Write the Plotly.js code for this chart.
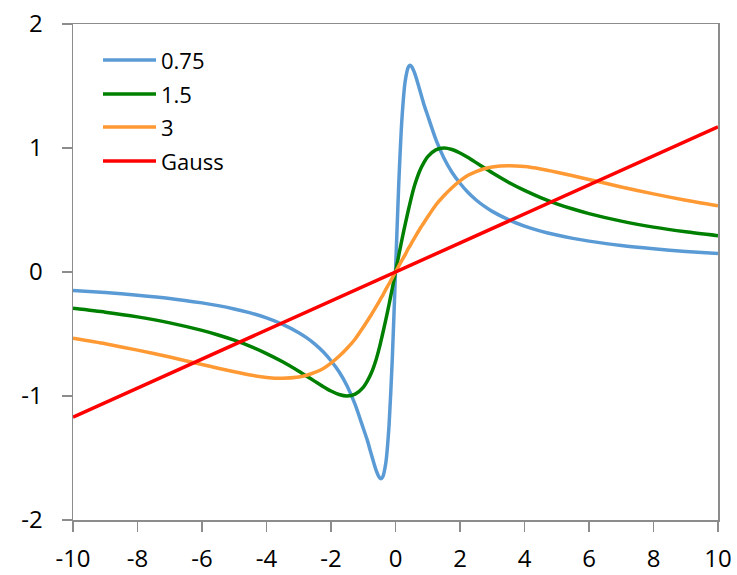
<!DOCTYPE html>
<html>
<head>
<meta charset="utf-8">
<script src="https://cdn.plot.ly/plotly-3.0.1.min.js"></script>
<style>
  html, body { margin: 0; padding: 0; background: #ffffff; }
  #chart { width: 737px; height: 575px; }
</style>
</head>
<body>
<div id="chart"></div>
<script>
// Sample positions along x shared by the three dispersion curves
const xs = [-10, -9, -8, -7, -6, -5.5, -5, -4.5, -4, -3.5, -3, -2.75, -2.5, -2.25, -2, -1.75, -1.5, -1.25, -1, -0.875,
            -0.75, -0.6, -0.5, -0.45, -0.4, -0.3, -0.2, -0.1,
            0,
            0.1, 0.2, 0.3, 0.4, 0.45, 0.5, 0.6, 0.75,
            0.875, 1, 1.25, 1.5, 1.75, 2, 2.25, 2.5, 2.75, 3, 3.5, 4, 4.5, 5, 5.5, 6, 7, 8, 9, 10];

// Width 0.75
const yBlue = [-0.150, -0.166, -0.187, -0.213, -0.249, -0.271, -0.298, -0.330, -0.370, -0.422, -0.489, -0.531, -0.581, -0.641, -0.716, -0.805, -0.920, -1.070, -1.260, -1.356,
               -1.470, -1.600, -1.657, -1.667, -1.655, -1.538, -1.237, -0.706,
               0,
               0.706, 1.237, 1.538, 1.655, 1.667, 1.657, 1.600, 1.470,
               1.356, 1.260, 1.070, 0.920, 0.805, 0.716, 0.641, 0.581, 0.531, 0.489, 0.422, 0.370, 0.330, 0.298, 0.271, 0.249, 0.213, 0.187, 0.166, 0.150];

// Width 1.5
const yGreen = [-0.293, -0.324, -0.362, -0.410, -0.471, -0.508, -0.550, -0.600, -0.658, -0.724, -0.800, -0.841, -0.882, -0.923, -0.960, -0.988, -1.000, -0.985, -0.930, -0.880,
                -0.815, -0.705, -0.610, -0.555, -0.500, -0.385, -0.262, -0.133,
                0,
                0.133, 0.262, 0.385, 0.500, 0.555, 0.610, 0.705, 0.815,
                0.880, 0.930, 0.985, 1.000, 0.988, 0.960, 0.923, 0.882, 0.841, 0.800, 0.724, 0.658, 0.600, 0.550, 0.508, 0.471, 0.410, 0.362, 0.324, 0.293];

// Width 3
const yOrange = [-0.535, -0.579, -0.630, -0.686, -0.746, -0.776, -0.805, -0.831, -0.850, -0.857, -0.847, -0.833, -0.810, -0.780, -0.735, -0.680, -0.615, -0.540, -0.445, -0.395,
                 -0.345, -0.280, -0.235, -0.210, -0.190, -0.140, -0.095, -0.047,
                 0,
                 0.047, 0.095, 0.140, 0.190, 0.210, 0.235, 0.280, 0.345,
                 0.395, 0.445, 0.540, 0.615, 0.680, 0.735, 0.780, 0.810, 0.833, 0.847, 0.857, 0.850, 0.831, 0.805, 0.776, 0.746, 0.686, 0.630, 0.579, 0.535];

// Gaussian reference line
const xGauss = [-10, -5, 0, 5, 10];
const yGauss = [-1.17, -0.585, 0, 0.585, 1.17];

const seriesNames = ["0.75", "1.5", "3", "Gauss"];
const seriesColors = ["#5B9BD5", "#008000", "#FF9933", "#FF0000"];

const xTickVals = [-10, -8, -6, -4, -2, 0, 2, 4, 6, 8, 10];
const xTickText = ["-10", "-8", "-6", "-4", "-2", "0", "2", "4", "6", "8", "10"];
const yTickVals = [-2, -1, 0, 1, 2];
const yTickText = ["-2", "-1", "0", "1", "2"];

const seriesX = [xs, xs, xs, xGauss];
const seriesY = [yBlue, yGreen, yOrange, yGauss];

const traces = seriesNames.map((name, i) => ({
  type: "scatter",
  mode: "lines",
  name: name,
  x: seriesX[i],
  y: seriesY[i],
  line: { color: seriesColors[i], width: 3.5, shape: i < 3 ? "spline" : "linear", smoothing: 0.6 },
  hoverinfo: "skip"
}));

// Legend drawn in paper space: a short line sample followed by the series name
const legendX0 = 0.0465, legendX1 = 0.1287, legendTextX = 0.1333;
const legendRowsY = [0.9274, 0.8589, 0.7923, 0.7238];

const shapes = seriesNames.map((_, i) => ({
  type: "line", xref: "paper", yref: "paper",
  x0: legendX0, x1: legendX1, y0: legendRowsY[i], y1: legendRowsY[i],
  line: { color: seriesColors[i], width: 3.5 }
}));

const annotations = seriesNames.map((name, i) => ({
  xref: "paper", yref: "paper",
  x: legendTextX, y: legendRowsY[i],
  xanchor: "left", yanchor: "middle",
  text: name, showarrow: false,
  font: { family: "Open Sans, sans-serif", size: 22, color: "#000000" }
}));

const axisCommon = {
  showgrid: false,
  zeroline: false,
  showline: true,
  mirror: true,
  linecolor: "#8C8C8C",
  linewidth: 1.5,
  ticks: "outside",
  ticklen: 10,
  tickwidth: 1.5,
  tickcolor: "#8C8C8C",
  tickmode: "array",
  tickfont: { family: "Open Sans, sans-serif", size: 24, color: "#000000" }
};

const layout = {
  width: 737,
  height: 575,
  margin: { l: 73, r: 19, t: 24, b: 55 },
  paper_bgcolor: "#ffffff",
  plot_bgcolor: "#ffffff",
  showlegend: false,
  xaxis: Object.assign({}, axisCommon, {
    range: [-10, 10],
    tickvals: xTickVals,
    ticktext: xTickText,
    ticklabelstandoff: 7
  }),
  yaxis: Object.assign({}, axisCommon, {
    range: [-2, 2],
    tickvals: yTickVals,
    ticktext: yTickText,
    ticklabelstandoff: 14
  }),
  shapes: shapes,
  annotations: annotations
};

Plotly.newPlot("chart", traces, layout, { staticPlot: true, displayModeBar: false });
</script>
</body>
</html>
